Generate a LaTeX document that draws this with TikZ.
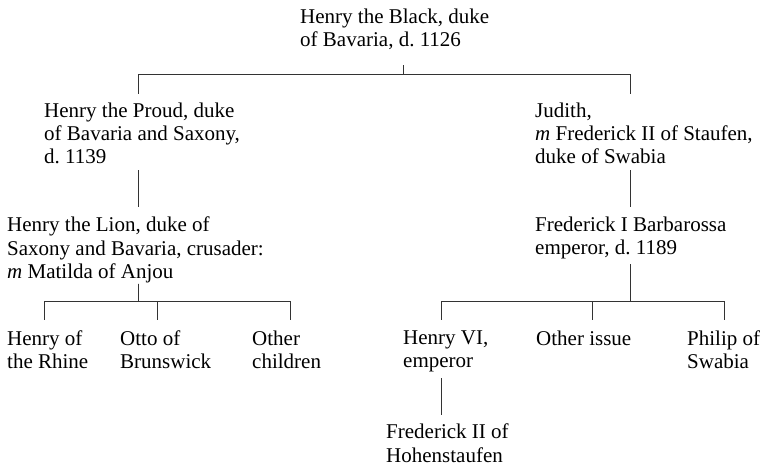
\documentclass[tikz,border=0pt]{standalone}
\usepackage{fontspec}
\setmainfont{Liberation Serif}
\usepackage{tikz}
\usetikzlibrary{calc}
\frenchspacing

\tikzset{
  person/.style={anchor=north west, inner sep=0pt, align=left,
                 font=\fontsize{21}{23.3}\selectfont},
  kin/.style={black!80, line width=0.8pt}
}

\begin{document}
\begin{tikzpicture} [x=1pt, y=-1pt]

\useasboundingbox (0,0) rectangle (764,467);

% generation 1 and 2
\node[person] (hblack) at (300,8.9) {Henry the Black, duke\\of Bavaria, d. 1126};
\node[person] (proud) at (44,102.3) {Henry the Proud, duke\\of Bavaria and Saxony,\\d. 1139};
\node[person] (judith) at (535,102.3) {Judith,\\\textit{m} Frederick II of Staufen,\\duke of Swabia};

% generation 3
\node[person] (lion) at (7,216.8) {Henry the Lion, duke of\\Saxony and Bavaria, crusader:\\\textit{m} Matilda of Anjou};
\node[person] (barbarossa) at (535,216.8) {Frederick I Barbarossa\\emperor, d. 1189};

% generation 4
\node[person] (rhine) at (7,330.6) {Henry of\\the Rhine};
\node[person] (otto) at (120,330.6) {Otto of\\Brunswick};
\node[person] (others) at (252,330.6) {Other\\children};
\node[person] (henry) at (403,330.6) {Henry VI,\\emperor};
\node[person] (issue) at (536,330.6) {Other issue};
\node[person] (philip) at (687,330.6) {Philip of\\Swabia};

% generation 5
\node[person] (frederick) at (386,423.8) {Frederick II of\\Hohenstaufen};

% line ends
\coordinate (hblack-out) at (403,65);
\coordinate (proud-in) at (138,94);
\coordinate (judith-in) at (630,94);
\coordinate (proud-out) at (138,170);
\coordinate (lion-in) at (138,207);
\coordinate (judith-out) at (630,170);
\coordinate (barbarossa-in) at (630,207);
\coordinate (lion-out) at (138,283.5);
\coordinate (barbarossa-out) at (630,264);
\coordinate (henry-out) at (441,378);
\coordinate (frederick-in) at (441,415);

\draw[kin] (hblack-out) -- ++(0,9) coordinate (hblack-j) -| (proud-in) (hblack-j) -| (judith-in);
\draw[kin] (proud-out) -- (lion-in);
\draw[kin] (judith-out) -- (barbarossa-in);

\foreach \n/\x in {rhine/44, otto/157, others/290} {
 \draw[kin] (lion-out) |- (\x,301) -- (\x,320);
};
\foreach \n/\x in {henry/441, issue/592, philip/724} {
 \draw[kin] (barbarossa-out) |- (\x,301) -- (\x,320);
};

\draw[kin] (henry-out) -- (frederick-in);

\end{tikzpicture}
\end{document}
